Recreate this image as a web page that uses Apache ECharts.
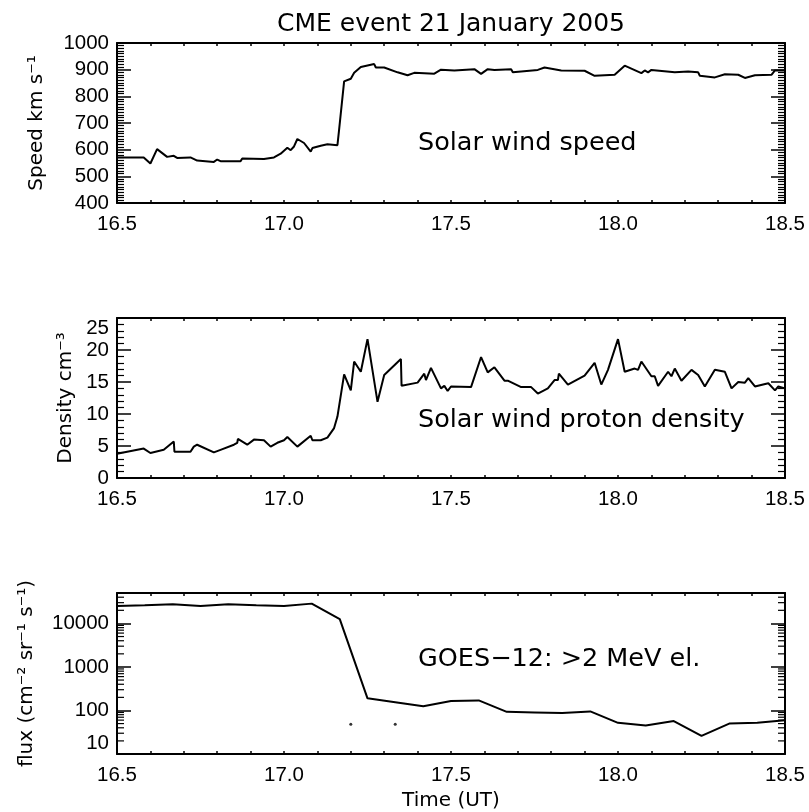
<!DOCTYPE html>
<html>
<head>
<meta charset="utf-8">
<script src="https://cdn.jsdelivr.net/npm/echarts@6/dist/echarts.min.js"></script>
<style>
  html, body { margin: 0; padding: 0; background: #ffffff; }
  #chart { width: 809px; height: 812px; }
</style>
</head>
<body>
<div id="chart"></div>
<script>
// Solar wind speed (km/s) against time (UT hours)
const speedTime = [16.50, 16.58, 16.60, 16.62, 16.65, 16.67, 16.68, 16.72, 16.74, 16.79,
  16.80, 16.81, 16.87, 16.875, 16.94, 16.97, 16.99, 17.01, 17.02, 17.03,
  17.04, 17.06, 17.08, 17.085, 17.11, 17.13, 17.16, 17.165, 17.18, 17.20,
  17.21, 17.23, 17.27, 17.275, 17.30, 17.34, 17.37, 17.39, 17.45, 17.47,
  17.51, 17.57, 17.59, 17.61, 17.63, 17.68, 17.685, 17.76, 17.78, 17.83,
  17.90, 17.93, 17.99, 18.02, 18.07, 18.08, 18.09, 18.10, 18.17, 18.21,
  18.24, 18.245, 18.29, 18.32, 18.36, 18.38, 18.41, 18.46, 18.47, 18.50];
const speedKms = [571, 571, 548, 602, 573, 577, 569, 571, 559, 554,
  563, 557, 557, 567, 565, 571, 585, 607, 598, 612,
  640, 625, 593, 606, 615, 620, 617, 675, 856, 866,
  888, 910, 921, 908, 908, 890, 879, 888, 885, 900,
  897, 902, 884, 902, 899, 902, 890, 899, 908, 897,
  896, 877, 881, 915, 887, 897, 890, 899, 890, 893,
  890, 877, 871, 883, 881, 869, 879, 881, 897, 897];

// Solar wind proton density (cm^-3)
const densTime = [16.50, 16.58, 16.60, 16.64, 16.67, 16.672, 16.72, 16.73, 16.74, 16.79,
  16.81, 16.85, 16.86, 16.862, 16.89, 16.91, 16.94, 16.96, 16.98, 17.00,
  17.01, 17.04, 17.08, 17.085, 17.11, 17.13, 17.15, 17.16, 17.18, 17.20,
  17.21, 17.23, 17.25, 17.28, 17.30, 17.35, 17.352, 17.40, 17.42, 17.425,
  17.44, 17.47, 17.48, 17.49, 17.50, 17.56, 17.59, 17.61, 17.63, 17.66,
  17.67, 17.71, 17.74, 17.76, 17.79, 17.81, 17.82, 17.823, 17.85, 17.90,
  17.93, 17.95, 17.97, 18.00, 18.02, 18.05, 18.06, 18.07, 18.10, 18.11,
  18.12, 18.15, 18.16, 18.17, 18.19, 18.22, 18.24, 18.26, 18.29, 18.32,
  18.34, 18.36, 18.38, 18.39, 18.41, 18.45, 18.47, 18.48, 18.50];
const densCm3 = [3.8, 4.6, 3.9, 4.4, 5.7, 4.1, 4.1, 4.9, 5.2, 4.0,
  4.4, 5.2, 5.5, 6.1, 5.2, 6.0, 5.9, 4.9, 5.5, 5.9,
  6.4, 4.9, 6.6, 5.9, 5.9, 6.3, 7.8, 9.6, 16.2, 13.7,
  18.2, 16.6, 21.7, 11.9, 16.1, 18.6, 14.4, 14.9, 16.3, 15.3,
  17.2, 14.0, 14.4, 13.6, 14.3, 14.2, 18.9, 16.5, 17.3, 15.2,
  15.2, 14.2, 14.2, 13.2, 14.0, 15.3, 15.3, 16.3, 14.6, 16.0,
  18.0, 14.6, 16.9, 21.7, 16.6, 17.1, 16.9, 18.2, 15.9, 15.9,
  14.4, 16.6, 15.9, 17.1, 15.2, 16.9, 16.1, 14.3, 16.9, 16.6,
  14.0, 15.0, 14.9, 15.6, 14.3, 14.8, 13.7, 14.3, 14.0];

// GOES-12 >2 MeV electron flux, 5-minute values
const fluxTime = [16.500, 16.583, 16.667, 16.750, 16.833, 16.917, 17.000, 17.083, 17.167, 17.250,
  17.333, 17.417, 17.500, 17.583, 17.667, 17.750, 17.833, 17.917, 18.000, 18.083,
  18.167, 18.250, 18.333, 18.417, 18.500];
const fluxGoes = [25000, 26000, 27500, 25000, 27500, 26000, 25000, 28500, 12500, 190,
  155, 125, 165, 170, 93, 90, 87, 95, 52, 45,
  57, 26, 50, 52, 60];
// isolated flux samples
const fluxDotTime = [17.200, 17.333];
const fluxDotVal = [48, 48];

// axis ranges and tick labels
const timeRange = [16.5, 18.5];
const speedRange = [400, 1000];
const densRange = [0, 25];
const fluxRange = [10, 50000];
const fluxDecades = [10, 100, 1000, 10000];
const fluxMinorSteps = [2, 3, 4, 5, 6, 7, 8, 9];

const zip = (a, b) => a.map((v, i) => [v, b[i]]);

const FONT = 'DejaVu Sans';
const TICK_FONT = 'Liberation Sans';
const INK = '#000000';

const fluxMinorTicks = [];
fluxDecades.forEach(d => fluxMinorSteps.forEach(m => {
  if (d * m < fluxRange[1]) fluxMinorTicks.push(d * m);
}));

const grids = [
  { left: 117, right: 24, top: 43, height: 160 },
  { left: 117, right: 24, top: 318, height: 160 },
  { left: 117, right: 24, top: 593, height: 162 }
];

function timeAxis(gridIndex, pos, extra) {
  return Object.assign({
    gridIndex: gridIndex,
    type: 'value',
    position: pos,
    min: timeRange[0],
    max: timeRange[1],
    interval: 0.5,
    axisLine: { show: true, onZero: false, lineStyle: { color: INK, width: 2 } },
    axisTick: { show: true, inside: true, length: 3, lineStyle: { color: INK, width: 1.5 } },
    minorTick: { show: true, splitNumber: 5, length: 3, lineStyle: { color: INK, width: 1.5 } },
    splitLine: { show: false },
    axisLabel: pos === 'bottom'
      ? { show: true, color: INK, fontSize: 20.5, fontFamily: TICK_FONT, margin: 11,
          showMinLabel: true, showMaxLabel: true, hideOverlap: false,
          formatter: v => v.toFixed(1) }
      : { show: false }
  }, extra || {});
}

function valueAxis(gridIndex, pos, cfg) {
  const base = {
    gridIndex: gridIndex,
    position: pos,
    axisLine: { show: true, onZero: false, lineStyle: { color: INK, width: 2 } },
    axisTick: { show: true, inside: true, length: 14, lineStyle: { color: INK, width: 1.5 } },
    splitLine: { show: false },
    axisLabel: pos === 'left'
      ? Object.assign({ show: true, color: INK, fontSize: 20.5, fontFamily: TICK_FONT, margin: 8,
          showMinLabel: true, showMaxLabel: true, hideOverlap: false,
          formatter: v => String(v) }, cfg.label || {})
      : { show: false }
  };
  delete cfg.label;
  if (pos !== 'left') { delete cfg.name; delete cfg.nameGap; }
  return Object.assign(base, cfg);
}

const nameStyle = { color: INK, fontSize: 20, fontFamily: FONT };

const xAxes = [
  timeAxis(0, 'bottom'), timeAxis(0, 'top'),
  timeAxis(1, 'bottom'), timeAxis(1, 'top'),
  timeAxis(2, 'bottom', { name: 'Time (UT)', nameLocation: 'middle', nameGap: 37, nameTextStyle: nameStyle }),
  timeAxis(2, 'top')
];

function speedAxis(pos) {
  return valueAxis(0, pos, {
    type: 'value', min: speedRange[0], max: speedRange[1], interval: 100,
    minorTick: { show: true, splitNumber: 10, length: 7, lineStyle: { color: INK, width: 1.2 } },
    name: 'Speed km s\u207B\u00B9', nameLocation: 'middle', nameGap: 70, nameTextStyle: nameStyle
  });
}
function densAxis(pos) {
  return valueAxis(1, pos, {
    type: 'value', min: densRange[0], max: densRange[1], interval: 5,
    minorTick: { show: true, splitNumber: 5, length: 7, lineStyle: { color: INK, width: 1.2 } },
    name: 'Density cm\u207B\u00B3', nameLocation: 'middle', nameGap: 41, nameTextStyle: nameStyle,
    label: { verticalAlignMaxLabel: 'top' }
  });
}
function fluxAxis(pos) {
  return valueAxis(2, pos, {
    type: 'log', logBase: 10, min: fluxRange[0], max: fluxRange[1],
    minorTick: { show: false },
    name: 'flux (cm\u207B\u00B2 sr\u207B\u00B9 s\u207B\u00B9)', nameLocation: 'middle', nameGap: 80,
    nameTextStyle: nameStyle,
    label: {
      verticalAlignMinLabel: 'bottom',
      formatter: v => {
        const r = Math.round(v);
        return fluxDecades.indexOf(r) >= 0 ? String(r) : '';
      }
    }
  });
}

const yAxes = [
  speedAxis('left'), speedAxis('right'),
  densAxis('left'), densAxis('right'),
  fluxAxis('left'), fluxAxis('right')
];

const lineStyle = { color: INK, width: 2 };
const noteStyle = { fontSize: 25.5, fontFamily: FONT, fill: INK, align: 'left', verticalAlign: 'middle' };

const option = {
  backgroundColor: '#ffffff',
  animation: false,
  textStyle: { fontFamily: FONT },
  grid: grids,
  xAxis: xAxes,
  yAxis: yAxes,
  graphic: [
    { type: 'text', x: 451, y: 24, style: { text: 'CME event 21 January 2005', fontSize: 25, fontFamily: FONT,
      fill: INK, align: 'center', verticalAlign: 'middle' } },
    { type: 'text', x: 418, y: 143, style: Object.assign({ text: 'Solar wind speed' }, noteStyle) },
    { type: 'text', x: 418, y: 420, style: Object.assign({ text: 'Solar wind proton density' }, noteStyle) },
    { type: 'text', x: 418, y: 659, style: Object.assign({ text: 'GOES\u221212: >2 MeV el.' }, noteStyle) }
  ],
  series: [
    { type: 'line', xAxisIndex: 0, yAxisIndex: 0, data: zip(speedTime, speedKms),
      symbol: 'none', lineStyle: lineStyle },
    { type: 'line', xAxisIndex: 2, yAxisIndex: 2, data: zip(densTime, densCm3),
      symbol: 'none', lineStyle: lineStyle },
    { type: 'line', xAxisIndex: 4, yAxisIndex: 4, data: zip(fluxTime, fluxGoes),
      symbol: 'none', lineStyle: lineStyle },
    { type: 'scatter', xAxisIndex: 4, yAxisIndex: 4, data: zip(fluxDotTime, fluxDotVal),
      symbol: 'circle', symbolSize: 3, itemStyle: { color: INK } },
    // logarithmic minor ticks on both sides of the flux panel
    { type: 'custom', xAxisIndex: 4, yAxisIndex: 4, silent: true, clip: false,
      data: fluxMinorTicks.map(v => [timeRange[0], v]),
      renderItem: (params, api) => {
        const cs = params.coordSys;
        const y = api.coord([timeRange[0], api.value(1)])[1];
        const st = { stroke: INK, lineWidth: 1.2 };
        return { type: 'group', children: [
          { type: 'line', shape: { x1: cs.x, y1: y, x2: cs.x + 7, y2: y }, style: st },
          { type: 'line', shape: { x1: cs.x + cs.width, y1: y, x2: cs.x + cs.width - 7, y2: y }, style: st }
        ] };
      } }
  ]
};

const chart = echarts.init(document.getElementById('chart'), null, { renderer: 'canvas' });
chart.setOption(option);
</script>
</body>
</html>
